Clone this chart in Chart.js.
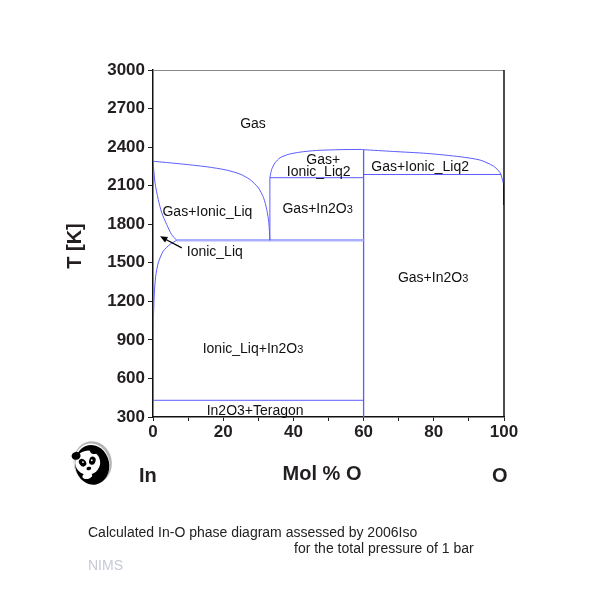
<!DOCTYPE html>
<html><head><meta charset="utf-8">
<script src="https://cdn.jsdelivr.net/npm/chart.js@4.4.0/dist/chart.umd.min.js"></script>
<style>html,body{margin:0;padding:0;background:#fff}canvas{display:block}</style>
</head><body>
<canvas id="c" width="612" height="589"></canvas>
<script>
// ---- tick values ----
const yTickValues = [300, 600, 900, 1200, 1500, 1800, 2100, 2400, 2700, 3000];
const xTickValues = [0, 10, 20, 30, 40, 50, 60, 70, 80, 90, 100];
const xLabelledTicks = [0, 20, 40, 60, 80, 100];

// ---- phase boundaries (x = mol % O, T = K) ----
const liqGasX = [0, 0.57, 1.5, 2.5, 3.9, 5.3, 6.75];
const liqGasT = [2290, 2123, 1992, 1889, 1798, 1720, 1675];

const ionicLiqX = [6.75, 4.8, 2.9, 1.5, 0.77, 0.38, 0.2, 0.1, 0.02, 0];
const ionicLiqT = [1675, 1642, 1590, 1499, 1395, 1265, 1135, 1057, 800, 430];

const gasDewX = [0, 7.7, 15.3, 21.0, 24.8, 27.6, 30.0, 31.5, 32.4, 33.0, 33.3];
const gasDewT = [2290, 2270, 2247, 2221, 2190, 2148, 2084, 2006, 1915, 1811, 1675];

const gasIn2O3LeftX = [33.3, 33.3];
const gasIn2O3LeftT = [1675, 2162];

const domeLeftX = [33.3, 33.8, 34.8, 36.2, 38.5, 41.9, 46.6, 53.3, 59.5, 60];
const domeLeftT = [2162, 2226, 2278, 2317, 2343, 2361, 2374, 2380, 2382, 2380];

const domeRightX = [60, 68.5, 78.0, 87.5, 93.2, 97.0, 98.9, 99.8, 100];
const domeRightT = [2380, 2366, 2351, 2325, 2299, 2252, 2200, 2122, 2100];

const oGasEdgeX = [100, 100];
const oGasEdgeT = [2120, 1950];

const monotecticX = [6.75, 60];
const monotecticT = [1675, 1675];

const liq2LeftX = [33.3, 60];
const liq2LeftT = [2162, 2162];

const liq2RightX = [60, 99.2];
const liq2RightT = [2187, 2187];

const in2o3X = [60, 60];
const in2o3T = [300, 2380];

const teragonX = [0, 60];
const teragonT = [430, 430];

// ---- region labels ----
const regionLabels = [
  ['Gas', 28.5, 2585],
  ['Gas+Ionic_Liq', 15.5, 1901],
  ['Ionic_Liq', 17.6, 1590],
  ['Gas+', 48.5, 2304],
  ['Ionic_Liq2', 47.2, 2218],
  ['Gas+Ionic_Liq2', 76.1, 2257],
  ['Gas+In2O|3', 46.9, 1928],
  ['Gas+In2O|3', 79.8, 1393],
  ['Ionic_Liq+In2O|3', 28.5, 839],
  ['In2O3+Teragon', 29.1, 356]
];
const arrowFrom = [8.2, 1616];
const arrowTo = [2.0, 1706];

const zip = (xs, ts) => xs.map((x, i) => ({x: x, y: ts[i]}));
const BLUE = '#5b5bff';
function ds(xs, ts, opt) {
  return Object.assign({
    data: zip(xs, ts), showLine: true, pointRadius: 0, borderColor: BLUE,
    borderWidth: 1, tension: 0.25, fill: false
  }, opt || {});
}

const datasets = [
  ds(liqGasX, liqGasT),
  ds(ionicLiqX, ionicLiqT),
  ds(gasDewX, gasDewT),
  ds(gasIn2O3LeftX, gasIn2O3LeftT, {tension: 0}),
  ds(domeLeftX, domeLeftT),
  ds(domeRightX, domeRightT),
  ds(oGasEdgeX, oGasEdgeT, {tension: 0, borderColor: '#1a1acc', borderWidth: 2}),
  ds(monotecticX, monotecticT, {tension: 0, borderColor: '#a9b0ff', borderWidth: 2.5}),
  ds(liq2LeftX, liq2LeftT, {tension: 0}),
  ds(liq2RightX, liq2RightT, {tension: 0}),
  ds(in2o3X, in2o3T, {tension: 0, borderWidth: 1.3}),
  ds(teragonX, teragonT, {tension: 0})
];

const TXT = '#231f20';
const FONT = '"Liberation Sans", Arial, Helvetica, sans-serif';

function drawRich(ctx, spec, cx, cy, size) {
  const parts = spec.split('|');
  const main = parts[0], sub = parts[1] || '';
  ctx.font = size + 'px ' + FONT;
  const w1 = ctx.measureText(main).width;
  ctx.font = (size - 3) + 'px ' + FONT;
  const w2 = sub ? ctx.measureText(sub).width : 0;
  let x = cx - (w1 + w2) / 2;
  ctx.textAlign = 'left';
  ctx.textBaseline = 'alphabetic';
  const base = cy + size * 0.36;
  ctx.font = size + 'px ' + FONT;
  ctx.fillText(main, x, base);
  if (sub) {
    ctx.font = (size - 3) + 'px ' + FONT;
    ctx.fillText(sub, x + w1, base);
  }
}

function drawPanda(ctx) {
  ctx.save();
  ctx.translate(91, 464);
  ctx.rotate(-0.2);
  // grey ring top-right
  ctx.fillStyle = '#b5b5b5';
  ctx.beginPath(); ctx.ellipse(2, -1, 19, 21.5, 0, 0, Math.PI * 2); ctx.fill();
  ctx.fillStyle = '#fff';
  ctx.beginPath(); ctx.ellipse(1, 0, 17.5, 20.5, 0, 0, Math.PI * 2); ctx.fill();
  ctx.fillStyle = '#000';
  ctx.beginPath(); ctx.ellipse(1, 1, 17, 20, 0, 0, Math.PI * 2); ctx.fill();
  // white face
  ctx.fillStyle = '#fff';
  ctx.beginPath(); ctx.ellipse(-3, -2, 12.5, 12, 0, 0, Math.PI * 2); ctx.fill();
  // ears
  ctx.fillStyle = '#000';
  ctx.beginPath(); ctx.ellipse(-13, -11, 4.5, 4, 0, 0, Math.PI * 2); ctx.fill();
  ctx.beginPath(); ctx.ellipse(6, -13, 4.5, 4, 0, 0, Math.PI * 2); ctx.fill();
  // eye patches
  ctx.beginPath(); ctx.ellipse(-8, -3, 3.2, 4.2, -0.5, 0, Math.PI * 2); ctx.fill();
  ctx.beginPath(); ctx.ellipse(2, -3, 3.2, 4.2, 0.5, 0, Math.PI * 2); ctx.fill();
  // nose
  ctx.beginPath(); ctx.ellipse(-3, 4, 2.4, 1.7, 0, 0, Math.PI * 2); ctx.fill();
  // white chin on bottom
  ctx.fillStyle = '#fff';
  ctx.beginPath(); ctx.ellipse(-6, 11, 5, 3, 0, 0, Math.PI * 2); ctx.fill();
  ctx.beginPath(); ctx.arc(-7.5, -3.5, 0.9, 0, Math.PI * 2); ctx.fill();
  ctx.beginPath(); ctx.arc(1.5, -3.5, 0.9, 0, Math.PI * 2); ctx.fill();
  ctx.restore();
}

const decor = {
  id: 'decor',
  afterDraw(chart) {
    const ctx = chart.ctx;
    const xs = chart.scales.x, ys = chart.scales.y;
    const a = chart.chartArea;
    ctx.save();
    // frame: top grey, right black
    ctx.strokeStyle = '#8a8a8a'; ctx.lineWidth = 1;
    ctx.beginPath(); ctx.moveTo(a.left, a.top + 0.5); ctx.lineTo(a.right, a.top + 0.5); ctx.stroke();
    ctx.strokeStyle = '#111'; ctx.lineWidth = 1.5;
    ctx.beginPath(); ctx.moveTo(a.right, a.top); ctx.lineTo(a.right, a.bottom); ctx.stroke();

    // region labels
    ctx.fillStyle = '#111';
    regionLabels.forEach(l => drawRich(ctx, l[0], xs.getPixelForValue(l[1]), ys.getPixelForValue(l[2]), 14));

    // arrow
    const x1 = xs.getPixelForValue(arrowFrom[0]), y1 = ys.getPixelForValue(arrowFrom[1]);
    const x2 = xs.getPixelForValue(arrowTo[0]), y2 = ys.getPixelForValue(arrowTo[1]);
    const ang = Math.atan2(y2 - y1, x2 - x1);
    ctx.strokeStyle = '#000'; ctx.lineWidth = 1.2;
    ctx.beginPath(); ctx.moveTo(x1, y1); ctx.lineTo(x2 - 4 * Math.cos(ang), y2 - 4 * Math.sin(ang)); ctx.stroke();
    ctx.fillStyle = '#000';
    ctx.beginPath();
    ctx.moveTo(x2, y2);
    ctx.lineTo(x2 - 8 * Math.cos(ang - 0.4), y2 - 8 * Math.sin(ang - 0.4));
    ctx.lineTo(x2 - 8 * Math.cos(ang + 0.4), y2 - 8 * Math.sin(ang + 0.4));
    ctx.closePath(); ctx.fill();

    // axis titles
    ctx.fillStyle = TXT;
    ctx.font = 'bold 20px ' + FONT;
    ctx.textBaseline = 'alphabetic';
    ctx.textAlign = 'center';
    ctx.fillText('Mol % O', 322, 480);
    ctx.textAlign = 'left';
    ctx.fillText('In', 139, 482);
    ctx.fillText('O', 492, 482);
    ctx.save();
    ctx.translate(81, 246);
    ctx.rotate(-Math.PI / 2);
    ctx.textAlign = 'center';
    ctx.fillText('T [K]', 0, 0);
    ctx.restore();

    // caption
    ctx.font = '14px ' + FONT;
    ctx.fillStyle = '#222';
    ctx.textAlign = 'left';
    ctx.fillText('Calculated In-O phase diagram assessed by 2006Iso', 88, 537);
    ctx.fillText('for the total pressure of 1 bar', 294, 553);
    ctx.fillStyle = '#c5cad6';
    ctx.fillText('NIMS', 88, 570);

    drawPanda(ctx);
    ctx.restore();
  }
};

new Chart(document.getElementById('c'), {
  type: 'scatter',
  data: {datasets: datasets},
  options: {
    responsive: false,
    animation: false,
    events: [],
    layout: {padding: {top: 70, right: 108, left: 0, bottom: 0}},
    plugins: {legend: {display: false}, tooltip: {enabled: false}},
    scales: {
      x: {
        type: 'linear', min: 0, max: 100,
        afterBuildTicks: s => { s.ticks = xTickValues.map(v => ({value: v})); },
        afterFit: s => { s.height = 172; },
        ticks: {
          autoSkip: false, maxRotation: 0, padding: 1, color: TXT,
          font: {family: FONT, size: 17, weight: 'bold'},
          callback: v => xLabelledTicks.includes(v) ? String(v) : ''
        },
        grid: {drawOnChartArea: false, drawTicks: true, tickLength: 4, color: '#222', lineWidth: 1},
        border: {display: true, color: '#111', width: 1.5}
      },
      y: {
        type: 'linear', min: 300, max: 3000,
        afterBuildTicks: s => { s.ticks = yTickValues.map(v => ({value: v})); },
        afterFit: s => { s.width = 153; },
        ticks: {
          autoSkip: false, padding: 3, color: TXT,
          font: {family: FONT, size: 17, weight: 'bold'},
          callback: v => String(v)
        },
        grid: {drawOnChartArea: false, drawTicks: true, tickLength: 5, color: '#222', lineWidth: 1},
        border: {display: true, color: '#111', width: 1.5}
      }
    }
  },
  plugins: [decor]
});
</script>
</body></html>
